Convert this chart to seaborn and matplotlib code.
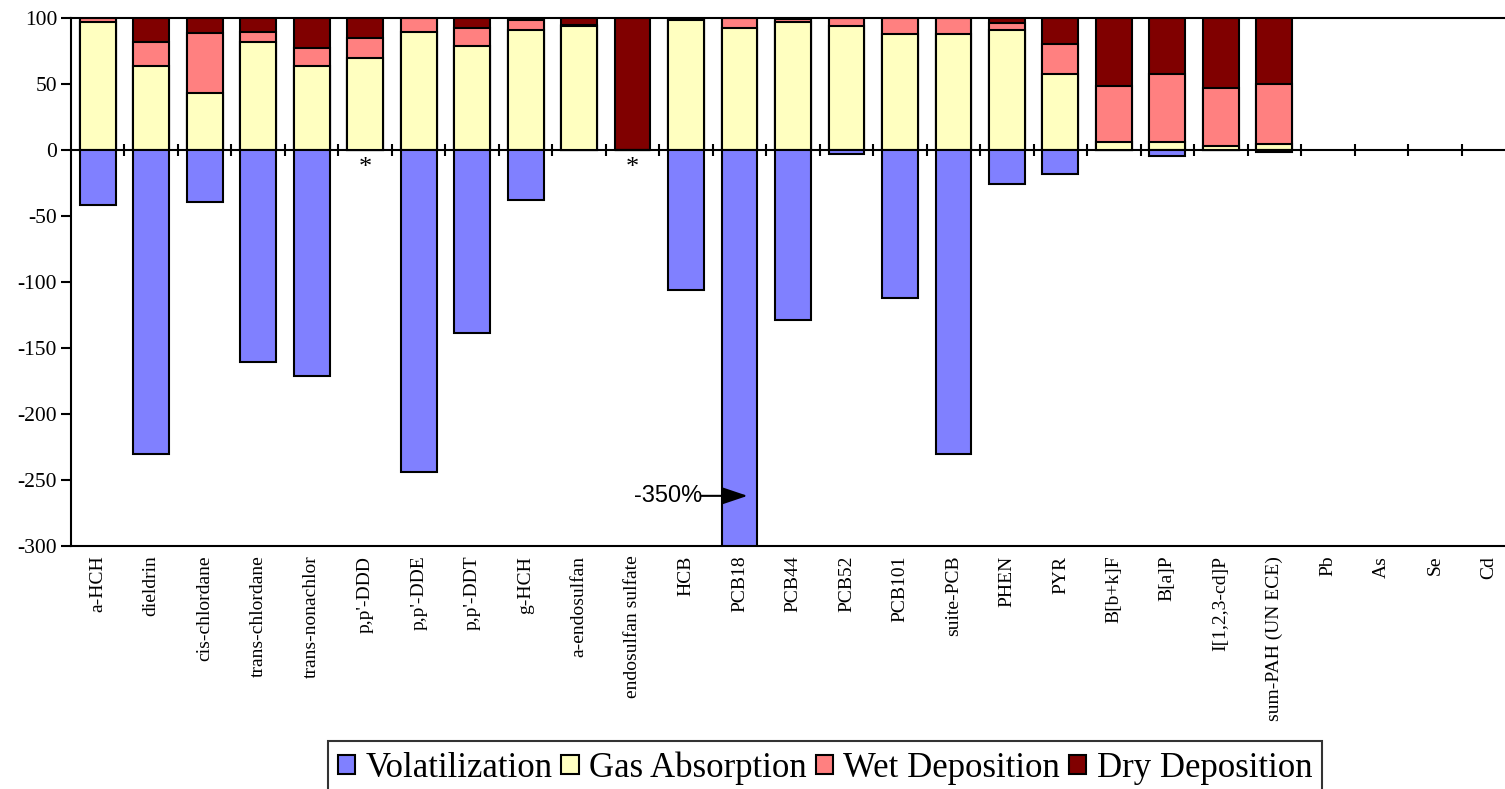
import numpy as np
import pandas as pd
import matplotlib
matplotlib.use("Agg")
import matplotlib.pyplot as plt
import seaborn as sns
from matplotlib.patches import Patch

nan = np.nan

categories = ["a-HCH", "dieldrin", "cis-chlordane", "trans-chlordane", "trans-nonachlor",
              "p,p'-DDD", "p,p'-DDE", "p,p'-DDT", "g-HCH", "a-endosulfan",
              "endosulfan sulfate", "HCB", "PCB18", "PCB44", "PCB52", "PCB101",
              "suite-PCB", "PHEN", "PYR", "B[b+k]F", "B[a]P", "I[1,2,3-cd]P",
              "sum-PAH (UN ECE)", "Pb", "As", "Se", "Cd"]

volatilization = [-42, -230, -39.5, -160.5, -171, nan, -244, -139, -38, nan,
                  nan, -106, -350, -129, -3, -112, -230, -25.5, -18, nan,
                  -4.3, nan, -1.5, nan, nan, nan, nan]
gas_absorption = [97, 64, 43, 82, 64, 70, 89.5, 79, 91, 94,
                  0, 98.5, 92.5, 97, 94, 88, 88, 91, 57.5, 6,
                  6, 3, 4.5, nan, nan, nan, nan]
wet_deposition = [3, 18, 46, 7.5, 13.5, 15, 10.5, 13.5, 7.5, 0.5,
                  0, 0.5, 7.5, 2.5, 6, 12, 12, 5, 22.5, 42.5,
                  51.5, 44, 45.5, nan, nan, nan, nan]
dry_deposition = [0, 18, 11, 10.5, 22.5, 15, 0, 7.5, 1.5, 5.5,
                  100, 1, 0, 0.5, 0, 0, 0, 4, 20, 51.5,
                  42.5, 53, 50, nan, nan, nan, nan]

series_names = ["Volatilization", "Gas Absorption", "Wet Deposition", "Dry Deposition"]
series_colors = ["#8080FF", "#FFFFC0", "#FF8080", "#800000"]
asterisk_categories = ["p,p'-DDD", "endosulfan sulfate"]
y_ticks = [-300, -250, -200, -150, -100, -50, 0, 50, 100]
clipped_label = "-350%"
clipped_category = "PCB18"

sns.set_style("white")
plt.rcParams["font.family"] = ["Liberation Serif", "DejaVu Serif"]
plt.rcParams["axes.unicode_minus"] = False
for key in ["text.color", "xtick.color", "ytick.color", "axes.labelcolor", "axes.edgecolor"]:
    plt.rcParams[key] = "black"

fig = plt.figure(figsize=(15.05, 7.89), dpi=100)
ax = fig.add_axes([71 / 1505, 1 - 546 / 789, 1444 / 1505, 528 / 789])

gas = np.array(gas_absorption, float)
cum_wet = gas + np.array(wet_deposition, float)
cum_dry = cum_wet + np.array(dry_deposition, float)
vol = np.array(volatilization, float)

layers = [(cum_dry, series_colors[3]), (cum_wet, series_colors[2]),
          (gas, series_colors[1]), (vol, series_colors[0])]
for vals, color in layers:
    df = pd.DataFrame({"category": categories, "value": vals})
    sns.barplot(data=df, x="category", y="value", order=categories, color=color,
                saturation=1, edgecolor="black", linewidth=1.5, width=0.67,
                errorbar=None, ax=ax, zorder=2)

ax.set_xlim(-0.5, len(categories) - 0.5)
ax.set_ylim(y_ticks[0], y_ticks[-1])
ax.set_yticks(y_ticks)
ax.set_xlabel("")
ax.set_ylabel("")

ax.tick_params(axis="x", bottom=False, length=0, pad=7, labelsize=14, labelrotation=90,
               labelcolor="black")
ax.tick_params(axis="y", left=True, direction="out", length=7, width=1.5, pad=3,
               labelsize=15.5, labelcolor="black", color="black")
for lab in ax.get_xticklabels():
    lab.set_va("top")
for s in ax.spines.values():
    s.set_color("black")
    s.set_linewidth(1.5)

# zero line with category-boundary ticks
zero_loc = (0 - y_ticks[0]) / (y_ticks[-1] - y_ticks[0])
sec = ax.secondary_xaxis(zero_loc)
sec.set_xticks(np.arange(0.5, len(categories) - 1, 1.0))
sec.tick_params(axis="x", top=True, bottom=False, direction="inout", length=9, width=1.5,
                color="black", labeltop=False, labelbottom=False)
for s in sec.spines.values():
    s.set_color("black")
    s.set_linewidth(1.5)

# asterisks
for cat in asterisk_categories:
    ax.text(categories.index(cat), -18.5, "*", ha="center", va="baseline", fontsize=19,
            color="black")

# clipped bar annotation
xi = categories.index(clipped_category)
ax.text(xi - 0.69, -262, clipped_label, ha="right", va="center",
        family=["Liberation Sans"], fontsize=17, color="black")
ax.annotate("", xy=(xi + 0.15, -262), xytext=(xi - 0.72, -262),
            arrowprops=dict(arrowstyle="-|>,head_length=0.8,head_width=0.27",
                            mutation_scale=20, color="black", lw=1.5,
                            shrinkA=0, shrinkB=0))

handles = [Patch(facecolor=c, edgecolor="black", linewidth=1.5, label=n)
           for n, c in zip(series_names, series_colors)]
leg = fig.legend(handles=handles, loc="upper center", bbox_to_anchor=(825 / 1505, 1 - 741 / 789),
                 ncol=4, frameon=True, fancybox=False, edgecolor="black", fontsize=25,
                 handlelength=0.5, handleheight=0.5, handletextpad=0.3, columnspacing=0.25,
                 borderpad=0.3, borderaxespad=0, labelcolor="black")
leg.get_frame().set_linewidth(1.5)

fig.savefig("out.png", dpi=100)
